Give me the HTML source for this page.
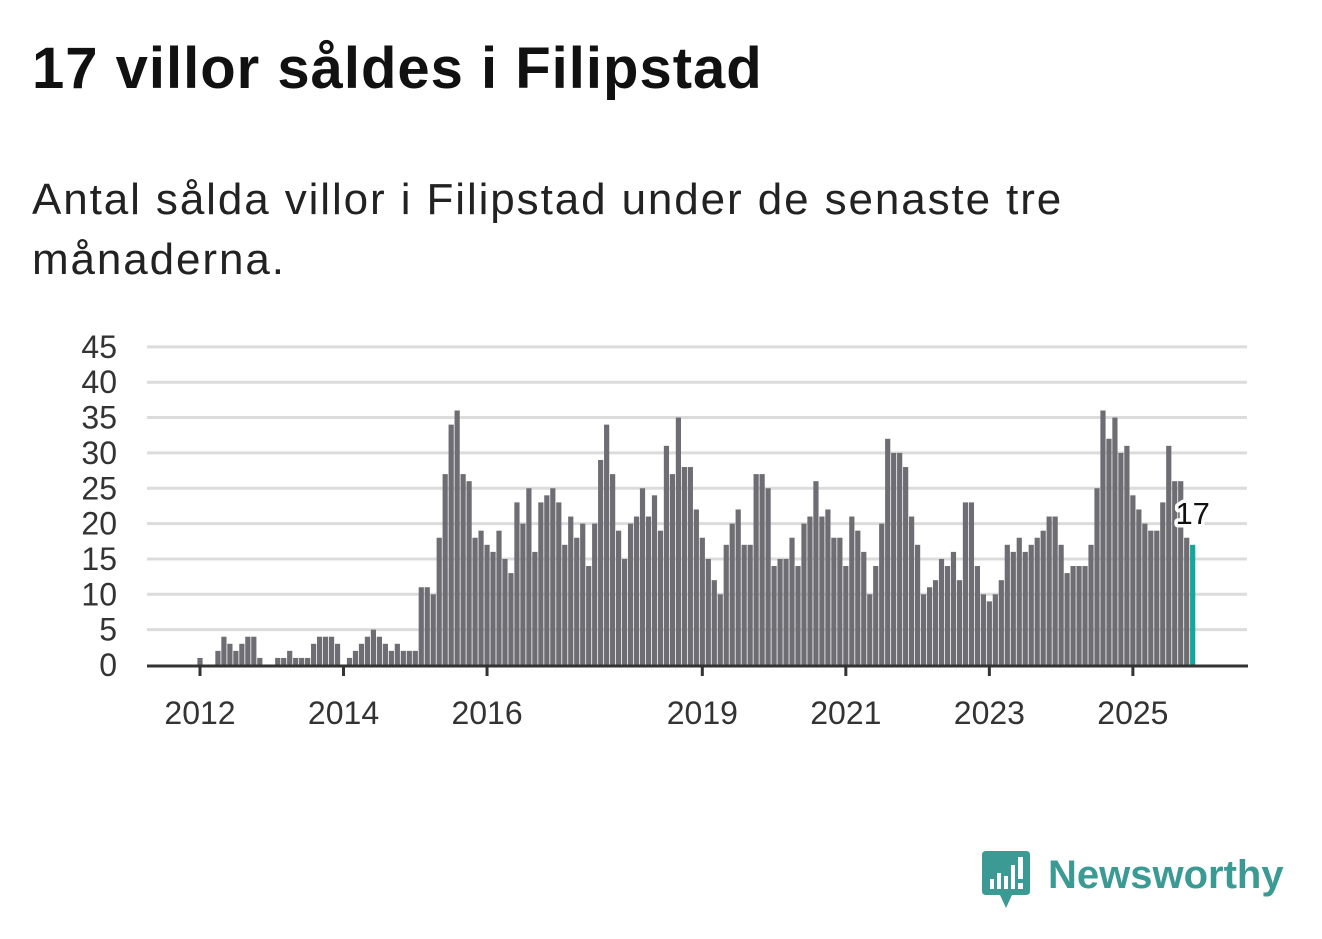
<!DOCTYPE html>
<html><head><meta charset="utf-8">
<style>
body{margin:0;background:#fff;width:1322px;height:939px;overflow:hidden;font-family:"Liberation Sans",sans-serif;}
#title{position:absolute;left:32px;top:34px;font-size:58px;font-weight:bold;color:#111;margin:0;letter-spacing:1px;line-height:70px}
#subtitle{position:absolute;left:32px;top:170px;font-size:44px;line-height:60px;color:#222;width:1070px;margin:0;letter-spacing:1.9px}
svg{position:absolute;left:0;top:0}
</style></head>
<body>
<h1 id="title">17 villor såldes i Filipstad</h1>
<p id="subtitle">Antal sålda villor i Filipstad under de senaste tre månaderna.</p>
<svg id="chart" width="1322" height="939">
  <g id="grid"></g>
  <g id="bars"></g>
  <g id="axes"></g>
  <g id="logo" transform="translate(982,851)">
    <path d="M4 0 H44 Q48 0 48 4 V40 Q48 44 44 44 H30 L24 57 L18 44 H4 Q0 44 0 40 V4 Q0 0 4 0Z" fill="#3b9b94"/>
    <rect x="8" y="28" width="4" height="10" fill="#fff"/>
    <rect x="15" y="22" width="4" height="16" fill="#fff"/>
    <rect x="22" y="25" width="4" height="13" fill="#fff"/>
    <rect x="29" y="14" width="4" height="24" fill="#fff"/>
    <rect x="36" y="6" width="5" height="22" fill="#fff"/>
    <rect x="36" y="32" width="5" height="6" fill="#fff"/>
    <text x="66" y="37" font-size="40" font-weight="bold" fill="#3b9b94" font-family="Liberation Sans, sans-serif">Newsworthy</text>
  </g>
</svg>
<script>
const startYear = 2012;
const values = [
1,0,0,2,4,3,2,3,4,4,1,0,
0,1,1,2,1,1,1,3,4,4,4,3,
0,1,2,3,4,5,4,3,2,3,2,2,
2,11,11,10,18,27,34,36,27,26,18,19,
17,16,19,15,13,23,20,25,16,23,24,25,
23,17,21,18,20,14,20,29,34,27,19,15,
20,21,25,21,24,19,31,27,35,28,28,22,
18,15,12,10,17,20,22,17,17,27,27,25,
14,15,15,18,14,20,21,26,21,22,18,18,
14,21,19,16,10,14,20,32,30,30,28,21,
17,10,11,12,15,14,16,12,23,23,14,10,
9,10,12,17,16,18,16,17,18,19,21,21,
17,13,14,14,14,17,25,36,32,35,30,31,
24,22,20,19,19,23,31,26,26,18,17
];
const yTicks = [0,5,10,15,20,25,30,35,40,45];
const xTickYears = [2012,2014,2016,2019,2021,2023,2025];

const NS="http://www.w3.org/2000/svg";
const x0=200, mw=5.98, y0=665, yu=7.07, left=147, right=1248;
const xs = m => x0 + m*mw;
const ys = v => y0 - v*yu;
function mk(tag, attrs, parent){const e=document.createElementNS(NS,tag);for(const k in attrs)e.setAttribute(k,attrs[k]);parent.appendChild(e);return e;}
const grid=document.getElementById('grid'), bars=document.getElementById('bars'), axes=document.getElementById('axes');

yTicks.forEach(v=>{
  if(v>0){const l=mk('line',{x1:left,x2:1247,y1:ys(v),y2:ys(v),stroke:'#dcdcdc','stroke-width':3},grid);
  
  }
  const t=mk('text',{x:117,y:ys(v)+11,'text-anchor':'end','font-size':32,fill:'#333'},axes);
  t.textContent=v;
  
  
});

values.forEach((v,i)=>{
  if(v<=0) return;
  const last = i===values.length-1;
  const r=mk('rect',{x:xs(i)-2.6,y:ys(v),width:5.2,height:v*yu,fill:last?'#15a79a':'#6e6d73'},bars);
  
  
});

const bl=mk('line',{x1:left,x2:right,y1:y0+1,y2:y0+1,stroke:'#333','stroke-width':3},axes);



xTickYears.forEach(yr=>{
  const x=xs((yr-startYear)*12);
  const tk=mk('line',{x1:x,x2:x,y1:y0,y2:y0+11,stroke:'#333','stroke-width':3},axes);
  
  
  const t=mk('text',{x:x,y:724,'text-anchor':'middle','font-size':32,fill:'#333'},axes);
  t.textContent=yr;
  
  
});

const li=values.length-1;
const lab=mk('text',{x:xs(li),y:ys(values[li])-21,'text-anchor':'middle','font-size':31,fill:'#111',stroke:'#fff','stroke-width':7,'paint-order':'stroke','stroke-linejoin':'round'},axes);
lab.textContent=values[li];


</script>
</body></html>
